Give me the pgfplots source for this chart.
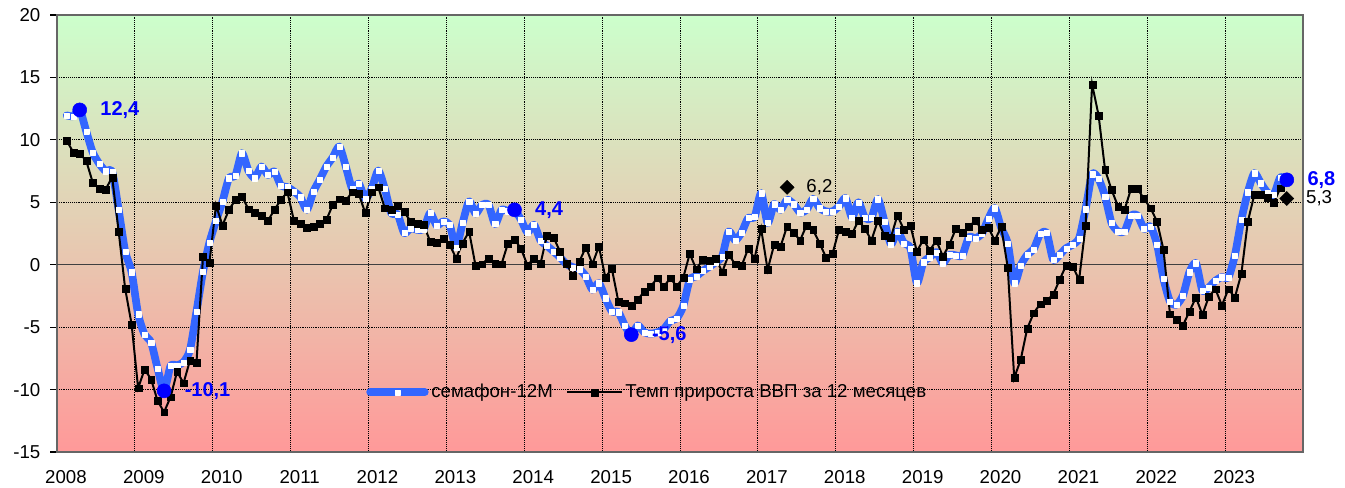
\documentclass[border=0pt]{standalone}
\usepackage{pgfplots}
\pgfplotsset{compat=1.18}
\usepackage{pgfplotstable}
\usepackage{fontspec}
\setmainfont{Liberation Sans}
\definecolor{bandblue}{RGB}{51,102,255}
\definecolor{ptblue}{RGB}{0,0,255}
\definecolor{bgtop}{RGB}{204,255,204}
\definecolor{bgbot}{RGB}{255,153,153}

\pgfplotstableread{
k b g
1 11.96 9.93
2 11.9 9.02
3 12.4 8.9
4 10.7 8.33
5 9.0 6.6
6 8.1 6.1
7 7.5 6.05
8 7.45 7.0
9 4.4 2.67
10 1.07 -1.9
11 -0.59 -4.78
12 -3.95 -9.88
13 -5.6 -8.38
14 -6.22 -9.17
15 -8.3 -10.9
16 -10.1 -11.8
17 -8.1 -10.6
18 -8.05 -8.57
19 -7.8 -9.48
20 -6.8 -7.65
21 -3.74 -7.8
22 -0.55 0.67
23 1.8 0.2
24 3.5 4.77
25 5.07 3.15
26 6.94 4.4
27 7.15 5.2
28 8.94 5.47
29 7.53 4.46
30 6.94 4.19
31 7.87 3.95
32 7.2 3.52
33 7.47 4.4
34 6.35 5.2
35 6.22 5.82
36 5.87 3.55
37 5.42 3.28
38 4.4 2.94
39 5.85 3.04
40 6.83 3.3
41 7.87 3.58
42 8.6 4.8
43 9.47 5.26
44 7.87 5.15
45 6.07 5.82
46 6.5 5.68
47 5.3 4.14
48 6.1 5.82
49 7.54 6.22
50 6.1 4.54
51 4.14 4.4
52 4.03 4.75
53 2.54 4.22
54 2.93 3.47
55 2.8 3.26
56 2.85 3.2
57 4.14 1.87
58 3.15 1.81
59 3.47 2.13
60 3.2 1.6
61 1.39 0.53
62 3.34 1.73
63 5.07 2.67
64 4.1 -0.1
65 4.8 0.05
66 4.8 0.53
67 3.26 0.08
68 4.4 0.05
69 4.3 1.73
70 4.4 2.05
71 3.6 1.28
72 2.59 -0.05
73 3.2 0.53
74 1.95 0.08
75 1.52 2.35
76 1.07 2.2
77 0.6 1.07
78 0.05 0.08
79 -0.2 -0.88
80 -0.35 0.27
81 -0.93 1.41
82 -2.0 0.05
83 -1.47 1.47
84 -2.67 -1.01
85 -3.74 -0.32
86 -3.79 -2.94
87 -4.88 -3.07
88 -5.6 -3.28
89 -4.86 -2.8
90 -5.42 -2.14
91 -5.52 -1.73
92 -5.42 -1.07
93 -5.15 -1.76
94 -4.5 -1.07
95 -4.3 -1.73
96 -3.3 -1.04
97 -1.2 0.88
98 -0.93 -0.35
99 -0.5 0.4
100 -0.17 0.35
101 0.2 0.53
102 0.67 -0.59
103 2.67 0.8
104 1.95 0.05
105 2.59 -0.08
106 3.74 1.28
107 3.82 0.53
108 5.74 2.88
109 3.34 -0.4
110 4.86 1.6
111 4.4 1.47
112 5.2 3.07
113 4.86 2.59
114 4.19 1.95
115 4.4 3.15
116 5.28 2.8
117 4.54 1.73
118 4.27 0.59
119 4.27 0.88
120 4.67 2.8
121 5.34 2.62
122 3.79 2.46
123 5.0 3.55
124 3.74 2.88
125 3.74 1.95
126 5.26 3.55
127 3.47 2.32
128 1.65 2.2
129 2.67 3.95
130 1.73 2.8
131 1.33 3.12
132 -1.47 1.07
133 0.21 2.0
134 0.59 1.15
135 1.01 1.95
136 0.13 0.67
137 0.8 1.6
138 0.75 2.88
139 0.75 2.54
140 2.2 3.02
141 2.13 3.55
142 2.46 2.8
143 3.66 2.99
144 4.54 1.95
145 2.94 3.02
146 1.73 -0.21
147 -1.47 -9.07
148 -0.05 -7.6
149 0.8 -5.12
150 1.25 -3.87
151 2.46 -3.15
152 2.54 -2.86
153 0.4 -2.4
154 0.8 -1.2
155 1.33 -0.05
156 1.6 -0.13
157 2.13 -1.2
158 4.46 3.15
159 7.26 14.46
160 6.87 11.96
161 5.47 7.6
162 3.34 6.0
163 2.67 4.67
164 2.67 4.4
165 3.95 6.08
166 3.95 6.08
167 2.88 5.28
168 3.07 4.54
169 1.65 3.47
170 -1.12 1.2
171 -2.94 -3.95
172 -3.2 -4.4
173 -2.46 -4.86
174 -0.59 -3.74
175 0.13 -2.62
176 -2.08 -4.0
177 -1.81 -2.54
178 -1.28 -1.95
179 -0.99 -3.26
180 -1.01 -1.95
181 0.75 -2.62
182 3.6 -0.72
183 5.82 3.47
184 7.34 5.6
185 6.54 5.6
186 5.8 5.36
187 5.6 4.98
188 7.0 6.14
189 6.8 nan
}\data

\pgfplotstableread{
k v lab
3 12.4 12,4
16 -10.1 -10,1
70 4.4 4,4
88 -5.6 -5,6
189 6.8 6,8
}\peaks

\pgfplotstableread{
k v lab
112 6.2 6,2
189 5.3 5,3
}\diam

\begin{document}
\begin{tikzpicture}
\begin{axis}[
  at={(0,0)}, anchor=south west,
  scale only axis, width=934.5pt, height=327.75pt,
  xmin=0, xmax=192, ymin=-15, ymax=20,
  xtick={0,12,...,180},
  xticklabels={2008,2009,2010,2011,2012,2013,2014,2015,2016,2017,2018,2019,2020,2021,2022,2023},
  ytick={-15,-10,-5,0,5,10,15,20},
  yticklabels={-15,-10,-5,0,5,10,15,20},
  extra y ticks={0}, extra y tick labels={},
  extra y tick style={grid style={solid, black!75, line width=0.9pt}, major tick length=0pt},
  grid=major,
  grid style={densely dotted, black, line width=0.75pt},
  axis line style={draw=black!60, line width=1.5pt},
  tick align=outside,
  x tick style={draw=none}, xtick pos=bottom,
  y tick style={black, line width=0.8pt}, ytick pos=left,
  major tick length=5pt,
  tick label style={font=\fontsize{14}{16}\selectfont},
  xticklabel style={xshift=6.75pt, yshift=-5pt},
  yticklabel style={xshift=-4pt},
  axis background/.style={top color=bgtop, bottom color=bgbot},
  clip=false,
  legend style={at={(0.474,0.137)}, anchor=center, draw=none, fill=none,
    legend columns=2, font=\fontsize{14}{16}\selectfont,
    /tikz/every even column/.append style={column sep=8pt}},
  legend image code/.code={\draw[mark repeat=2,mark phase=2] plot coordinates {(0cm,0cm) (0.72cm,0cm) (1.44cm,0cm)};},
]
\addplot[draw=bandblue, line width=5.8pt, line cap=round, line join=round, smooth, tension=0.4,
  mark=square*, mark size=1.9pt, mark options={fill=white, draw=white, line width=0.1pt, solid}]
  table[x expr=\thisrow{k}+0.5, y=b] {\data};
\addlegendentry{семафон-12М}
\addplot[black, line width=1.5pt, mark=square*, mark size=2.6pt, mark options={solid, line width=0.1pt}]
  table[x expr=\thisrow{k}+0.5, y=g] {\data};
\addlegendentry{Темп прироста ВВП за 12 месяцев}
\addplot[forget plot, only marks, mark=*, mark size=5.25pt, color=ptblue,
  point meta=explicit symbolic, nodes near coords,
  every node near coord/.append style={anchor=west, xshift=12pt, yshift=0pt,
    font=\fontsize{15}{17}\selectfont\bfseries, text=ptblue}]
  table[x expr=\thisrow{k}+0.5, y=v, meta=lab] {\peaks};
\addplot[forget plot, only marks, mark=square*, mark size=3.7pt, mark options={rotate=45}, color=black,
  point meta=explicit symbolic, nodes near coords,
  every node near coord/.append style={anchor=west, xshift=11pt, yshift=0pt,
    font=\fontsize{14}{16}\selectfont, text=black}]
  table[x expr=\thisrow{k}+0.5, y=v, meta=lab] {\diam};
\end{axis}
\pgfresetboundingbox
\useasboundingbox (-42.75pt,-26.25pt) rectangle (966pt,339pt);
\end{tikzpicture}
\end{document}
